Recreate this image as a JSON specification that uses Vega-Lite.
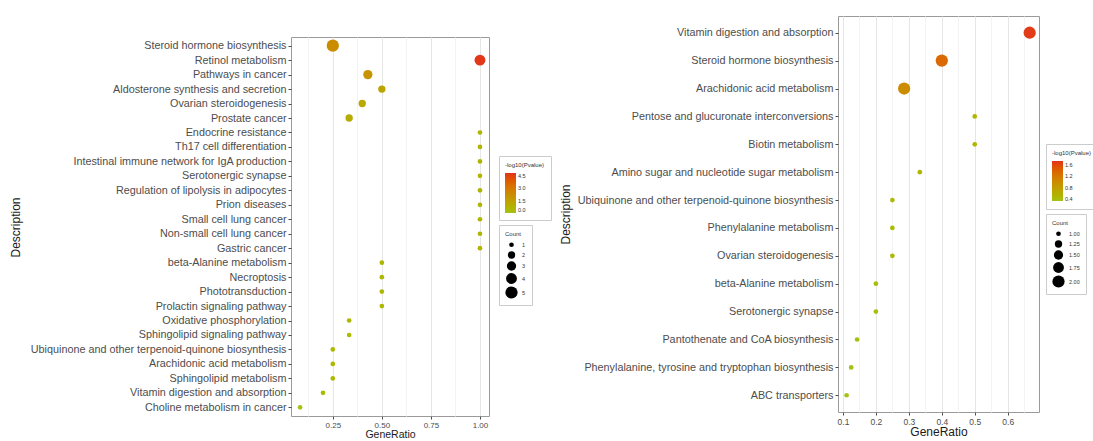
{
  "$schema": "https://vega.github.io/schema/vega-lite/v6.json",
  "background": "white",
  "padding": {"left": 8, "top": 15, "right": 0, "bottom": 0},
  "spacing": 6,
  "config": {
    "font": "Liberation Sans",
    "view": {"stroke": "#9a9a9a", "strokeWidth": 1},
    "axis": {
      "domain": false,
      "labelColor": "#4d4d4d",
      "tickColor": "#4d4d4d",
      "tickSize": 3,
      "labelPadding": 2,
      "labelLimit": 400,
      "gridColor": "#e8e8e8",
      "titleFontWeight": "normal",
      "titleColor": "#1a1a1a",
      "titleFontSize": 12
    },
    "legend": {
      "strokeColor": "#cccccc",
      "padding": 6,
      "titleFontSize": 6,
      "labelFontSize": 5.5,
      "titleFontWeight": "normal",
      "labelColor": "#333333",
      "titleColor": "#333333"
    }
  },
  "datasets": {
    "left": [
      {"Description": "Steroid hormone biosynthesis", "GeneRatio": 0.25, "Count": 5, "logP": 2.2},
      {"Description": "Retinol metabolism", "GeneRatio": 1.0, "Count": 4, "logP": 4.7},
      {"Description": "Pathways in cancer", "GeneRatio": 0.4286, "Count": 3, "logP": 2.0},
      {"Description": "Aldosterone synthesis and secretion", "GeneRatio": 0.5, "Count": 2, "logP": 1.3},
      {"Description": "Ovarian steroidogenesis", "GeneRatio": 0.4, "Count": 2, "logP": 1.1},
      {"Description": "Prostate cancer", "GeneRatio": 0.3333, "Count": 2, "logP": 1.0},
      {"Description": "Endocrine resistance", "GeneRatio": 1.0, "Count": 1, "logP": 0.6},
      {"Description": "Th17 cell differentiation", "GeneRatio": 1.0, "Count": 1, "logP": 0.6},
      {"Description": "Intestinal immune network for IgA production", "GeneRatio": 1.0, "Count": 1, "logP": 0.6},
      {"Description": "Serotonergic synapse", "GeneRatio": 1.0, "Count": 1, "logP": 0.6},
      {"Description": "Regulation of lipolysis in adipocytes", "GeneRatio": 1.0, "Count": 1, "logP": 0.6},
      {"Description": "Prion diseases", "GeneRatio": 1.0, "Count": 1, "logP": 0.6},
      {"Description": "Small cell lung cancer", "GeneRatio": 1.0, "Count": 1, "logP": 0.6},
      {"Description": "Non-small cell lung cancer", "GeneRatio": 1.0, "Count": 1, "logP": 0.6},
      {"Description": "Gastric cancer", "GeneRatio": 1.0, "Count": 1, "logP": 0.6},
      {"Description": "beta-Alanine metabolism", "GeneRatio": 0.5, "Count": 1, "logP": 0.5},
      {"Description": "Necroptosis", "GeneRatio": 0.5, "Count": 1, "logP": 0.5},
      {"Description": "Phototransduction", "GeneRatio": 0.5, "Count": 1, "logP": 0.5},
      {"Description": "Prolactin signaling pathway", "GeneRatio": 0.5, "Count": 1, "logP": 0.5},
      {"Description": "Oxidative phosphorylation", "GeneRatio": 0.3333, "Count": 1, "logP": 0.4},
      {"Description": "Sphingolipid signaling pathway", "GeneRatio": 0.3333, "Count": 1, "logP": 0.4},
      {"Description": "Ubiquinone and other terpenoid-quinone biosynthesis", "GeneRatio": 0.25, "Count": 1, "logP": 0.35},
      {"Description": "Arachidonic acid metabolism", "GeneRatio": 0.25, "Count": 1, "logP": 0.35},
      {"Description": "Sphingolipid metabolism", "GeneRatio": 0.25, "Count": 1, "logP": 0.35},
      {"Description": "Vitamin digestion and absorption", "GeneRatio": 0.2, "Count": 1, "logP": 0.3},
      {"Description": "Choline metabolism in cancer", "GeneRatio": 0.0833, "Count": 1, "logP": 0.1}
    ],
    "right": [
      {"Description": "Vitamin digestion and absorption", "GeneRatio": 0.6667, "Count": 2, "logP": 1.7},
      {"Description": "Steroid hormone biosynthesis", "GeneRatio": 0.4, "Count": 2, "logP": 1.35},
      {"Description": "Arachidonic acid metabolism", "GeneRatio": 0.2857, "Count": 2, "logP": 1.0},
      {"Description": "Pentose and glucuronate interconversions", "GeneRatio": 0.5, "Count": 1, "logP": 0.5},
      {"Description": "Biotin metabolism", "GeneRatio": 0.5, "Count": 1, "logP": 0.5},
      {"Description": "Amino sugar and nucleotide sugar metabolism", "GeneRatio": 0.3333, "Count": 1, "logP": 0.45},
      {"Description": "Ubiquinone and other terpenoid-quinone biosynthesis", "GeneRatio": 0.25, "Count": 1, "logP": 0.42},
      {"Description": "Phenylalanine metabolism", "GeneRatio": 0.25, "Count": 1, "logP": 0.42},
      {"Description": "Ovarian steroidogenesis", "GeneRatio": 0.25, "Count": 1, "logP": 0.42},
      {"Description": "beta-Alanine metabolism", "GeneRatio": 0.2, "Count": 1, "logP": 0.4},
      {"Description": "Serotonergic synapse", "GeneRatio": 0.2, "Count": 1, "logP": 0.4},
      {"Description": "Pantothenate and CoA biosynthesis", "GeneRatio": 0.1429, "Count": 1, "logP": 0.37},
      {"Description": "Phenylalanine, tyrosine and tryptophan biosynthesis", "GeneRatio": 0.125, "Count": 1, "logP": 0.36},
      {"Description": "ABC transporters", "GeneRatio": 0.1111, "Count": 1, "logP": 0.33}
    ]
  },
  "hconcat": [
    {
      "spacing": 0,
      "vconcat": [
        {
          "width": 198,
          "height": 20,
          "data": {"values": []},
          "mark": {"type": "point"},
          "view": {"stroke": null}
        },
        {
          "width": 198,
          "height": 379,
          "data": {"name": "left"},
          "mark": {"type": "circle", "opacity": 1},
          "encoding": {
            "x": {
              "field": "GeneRatio", "type": "quantitative",
              "scale": {"domain": [0.037, 1.046], "nice": false, "zero": false},
              "axis": {
                "title": "GeneRatio",
                "values": [0.125, 0.25, 0.375, 0.5, 0.625, 0.75, 0.875, 1.0],
                "labelExpr": "indexof([0.25, 0.5, 0.75, 1], datum.value) >= 0 ? format(datum.value, '.2f') : ''",
                "tickOpacity": {"condition": {"test": "indexof([0.25, 0.5, 0.75, 1], datum.value) >= 0", "value": 1}, "value": 0},
                "gridColor": {"condition": {"test": "indexof([0.25, 0.5, 0.75, 1], datum.value) >= 0", "value": "#e6e6e6"}, "value": "#f3f3f3"},
                "labelFontSize": 8,
                "titleFontSize": 10.5,
                "titlePadding": 0
              }
            },
            "y": {
              "field": "Description", "type": "nominal", "sort": null,
              "scale": {"type": "point", "padding": 0.6},
              "axis": {"title": "Description", "labelFontSize": 10.8, "labelLimit": 400, "titleX": -269, "titleY": 190}
            },
            "color": {
              "field": "logP", "type": "quantitative",
              "scale": {"domain": [0, 4.8], "range": ["#a4c21c", "#e2321c"], "interpolate": "hcl"},
              "legend": {"title": "-log10(Pvalue)", "orient": "none", "legendX": 208, "legendY": 140, "gradientLength": 40, "gradientThickness": 11, "values": [0, 1.5, 3, 4.5], "format": ".1f"}
            },
            "size": {
              "field": "Count", "type": "quantitative",
              "scale": {"domain": [1, 5], "range": [22, 150]},
              "legend": {"title": "Count", "orient": "none", "legendX": 208, "legendY": 209, "values": [1, 2, 3, 4, 5], "symbolFillColor": "black", "symbolStrokeWidth": 0, "symbolOpacity": 1}
            }
          }
        }
      ]
    },
    {
      "width": 201,
      "height": 396,
      "data": {"name": "right"},
      "mark": {"type": "circle", "opacity": 1},
      "encoding": {
        "x": {
          "field": "GeneRatio", "type": "quantitative",
          "scale": {"domain": [0.085, 0.695], "nice": false, "zero": false},
          "axis": {
            "title": "GeneRatio",
            "values": [0.1, 0.15, 0.2, 0.25, 0.3, 0.35, 0.4, 0.45, 0.5, 0.55, 0.6, 0.65],
            "labelExpr": "indexof([0.1, 0.2, 0.3, 0.4, 0.5, 0.6], datum.value) >= 0 ? format(datum.value, '.1f') : ''",
            "tickOpacity": {"condition": {"test": "indexof([0.1, 0.2, 0.3, 0.4, 0.5, 0.6], datum.value) >= 0", "value": 1}, "value": 0},
            "gridColor": {"condition": {"test": "indexof([0.1, 0.2, 0.3, 0.4, 0.5, 0.6], datum.value) >= 0", "value": "#e6e6e6"}, "value": "#f3f3f3"},
            "labelFontSize": 8.5,
            "titleFontSize": 12,
            "titlePadding": 1
          }
        },
        "y": {
          "field": "Description", "type": "nominal", "sort": null,
          "scale": {"type": "point", "padding": 0.6},
          "axis": {"title": "Description", "labelFontSize": 10.8, "labelLimit": 400, "titleX": -266, "titleY": 198}
        },
        "color": {
          "field": "logP", "type": "quantitative",
          "scale": {"domain": [0.33, 1.75], "range": ["#a4c21c", "#e2321c"], "interpolate": "hcl"},
          "legend": {"title": "-log10(Pvalue)", "orient": "none", "legendX": 208, "legendY": 128, "gradientLength": 40, "gradientThickness": 11, "values": [0.4, 0.8, 1.2, 1.6], "format": ".1f"}
        },
        "size": {
          "field": "Count", "type": "quantitative",
          "scale": {"domain": [1, 2], "range": [22, 150]},
          "legend": {"title": "Count", "orient": "none", "legendX": 208, "legendY": 198, "values": [1, 1.25, 1.5, 1.75, 2], "format": ".2f", "symbolFillColor": "black", "symbolStrokeWidth": 0, "symbolOpacity": 1}
        }
      }
    }
  ],
  "resolve": {
    "scale": {"color": "independent", "size": "independent", "x": "independent", "y": "independent"},
    "legend": {"color": "independent", "size": "independent"}
  }
}
